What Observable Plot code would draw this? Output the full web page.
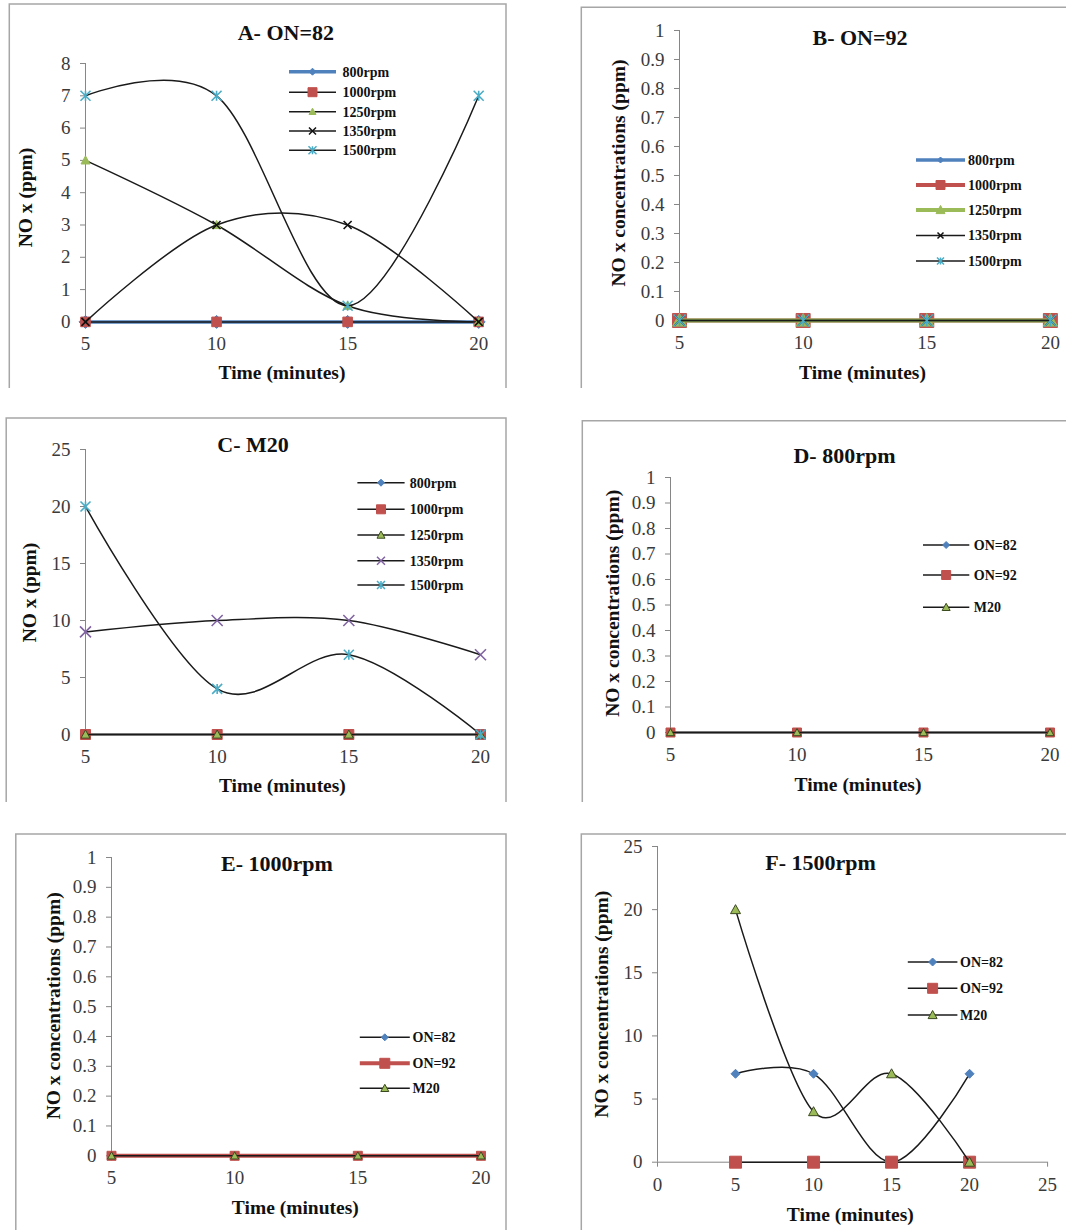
<!DOCTYPE html>
<html>
<head>
<meta charset="utf-8">
<script src="https://cdn.jsdelivr.net/npm/d3@7"></script>
<script src="https://cdn.jsdelivr.net/npm/@observablehq/plot@0.6"></script>
<style>
  html, body { margin: 0; padding: 0; background: #fff; }
  body { width: 1066px; height: 1230px; position: relative; overflow: hidden; font-family: "Liberation Serif", "Times New Roman", serif; }
  #root { position: absolute; left: 0; top: 0; width: 1066px; height: 1230px; }
  #overlay { position: absolute; left: 0; top: 0; pointer-events: none; }
</style>
</head>
<body>
<div id="root"></div>
<script>
// ---------------- DATA ----------------
const timeMin = [5, 10, 15, 20];
const rpmNames = ["800rpm", "1000rpm", "1250rpm", "1350rpm", "1500rpm"];
const fuelNames = ["ON=82", "ON=92", "M20"];

// A- ON=82 : NOx (ppm) per engine speed
const on82_800 = [0, 0, 0, 0];
const on82_1000 = [0, 0, 0, 0];
const on82_1250 = [5, 3, 0.5, 0];
const on82_1350 = [0, 3, 3, 0];
const on82_1500 = [7, 7, 0.5, 7];

// B- ON=92
const on92_800 = [0, 0, 0, 0];
const on92_1000 = [0, 0, 0, 0];
const on92_1250 = [0, 0, 0, 0];
const on92_1350 = [0, 0, 0, 0];
const on92_1500 = [0, 0, 0, 0];

// C- M20
const m20_800 = [0, 0, 0, 0];
const m20_1000 = [0, 0, 0, 0];
const m20_1250 = [0, 0, 0, 0];
const m20_1350 = [9, 10, 10, 7];
const m20_1500 = [20, 4, 7, 0];

// D- 800rpm
const d800_on82 = [0, 0, 0, 0];
const d800_on92 = [0, 0, 0, 0];
const d800_m20 = [0, 0, 0, 0];

// E- 1000rpm
const e1000_on82 = [0, 0, 0, 0];
const e1000_on92 = [0, 0, 0, 0];
const e1000_m20 = [0, 0, 0, 0];

// F- 1500rpm
const f1500_on82 = [7, 7, 0, 7];
const f1500_on92 = [0, 0, 0, 0];
const f1500_m20 = [20, 4, 7, 0];

// tick labels
const timeTicks = [5, 10, 15, 20];
const timeTicksF = [0, 5, 10, 15, 20, 25];
const ticks8 = [0, 1, 2, 3, 4, 5, 6, 7, 8];
const ticksUnit = [0, 0.1, 0.2, 0.3, 0.4, 0.5, 0.6, 0.7, 0.8, 0.9, 1];
const ticks25 = [0, 5, 10, 15, 20, 25];

const titles = ["A- ON=82", "B- ON=92", "C- M20", "D- 800rpm", "E- 1000rpm", "F- 1500rpm"];
const xTitle = "Time (minutes)";
const yTitleShort = "NO x (ppm)";
const yTitleLong = "NO x concentrations (ppm)";

// ---------------- STYLE ----------------
const COL = { blue: "#4F81BD", red: "#C0504D", green: "#9BBB59", purple: "#8064A2", cyan: "#4BACC6", line: "#1a1a1a" };
const AXIS = "#868686";
const FONT = "'Liberation Serif', 'Times New Roman', serif";

const half = size => Math.sqrt(size / Math.PI);
const SYM = {
  diamond: { draw(c, s) { const r = half(s); c.moveTo(0, -r); c.lineTo(r, 0); c.lineTo(0, r); c.lineTo(-r, 0); c.closePath(); } },
  square: { draw(c, s) { const r = half(s); c.moveTo(-r, -r); c.lineTo(r, -r); c.lineTo(r, r); c.lineTo(-r, r); c.closePath(); } },
  triangle: { draw(c, s) { const r = half(s); c.moveTo(0, -r); c.lineTo(r, r * 0.8); c.lineTo(-r, r * 0.8); c.closePath(); } },
  x: { draw(c, s) { const r = half(s); c.moveTo(-r, -r); c.lineTo(r, r); c.moveTo(r, -r); c.lineTo(-r, r); } },
  star: { draw(c, s) { const r = half(s); c.moveTo(-r, -r); c.lineTo(r, r); c.moveTo(r, -r); c.lineTo(-r, r); c.moveTo(0, -r); c.lineTo(0, r); } }
};
const MK = {
  diamond: { sym: "diamond", fill: COL.blue, stroke: COL.blue },
  square: { sym: "square", fill: COL.red, stroke: COL.red },
  triangle: { sym: "triangle", fill: COL.green, stroke: COL.green },
  triangleDark: { sym: "triangle", fill: COL.green, stroke: "#3b4a1e" },
  xBlack: { sym: "x", fill: "none", stroke: "#111" },
  xPurple: { sym: "x", fill: "none", stroke: COL.purple },
  star: { sym: "star", fill: "none", stroke: COL.cyan }
};

// ---------------- PANELS ----------------
const panels = [
  {
    title: titles[0], titlePos: [285.8, 40], xTitlePos: [282, 379], yTitle: yTitleShort, yTitlePos: [25.8, 197.5],
    frame: "M9.3,388 V4 H506 V388",
    plot: { x0: 85.4, x1: 478.6, yTop: 63.3, yBot: 321.7 }, xDomain: [5, 20], xTicks: timeTicks, yDomain: [0, 8], yTicks: ticks8,
    legend: { lx0: 289, lx1: 336, tx: 342.6, rows: [71.7, 92.2, 111.7, 131, 150.3] },
    series: [
      { name: rpmNames[0], values: on82_800, stroke: COL.blue, sw: 3.5, mk: MK.diamond, r: 6.5, lr: 3.5 },
      { name: rpmNames[1], values: on82_1000, stroke: COL.line, sw: 1.5, mk: MK.square, r: 4.8, lr: 4.5 },
      { name: rpmNames[2], values: on82_1250, stroke: COL.line, sw: 1.5, mk: MK.triangle, r: 4.5, lr: 3.5 },
      { name: rpmNames[3], values: on82_1350, stroke: COL.line, sw: 1.5, mk: MK.xBlack, r: 4, lr: 3.5 },
      { name: rpmNames[4], values: on82_1500, stroke: COL.line, sw: 1.5, mk: MK.star, r: 5, lr: 4 }
    ]
  },
  {
    title: titles[1], titlePos: [860, 45], xTitlePos: [862.5, 379], yTitle: yTitleLong, yTitlePos: [618, 173],
    frame: "M581.3,388 V7.3 H1066",
    plot: { x0: 678.7, x1: 1049.6, yTop: 30, yBot: 320 }, xDomain: [5, 20], xTicks: timeTicks, yDomain: [0, 1], yTicks: ticksUnit,
    legend: { lx0: 916, lx1: 965, tx: 968, rows: [160, 185, 210, 235.5, 261] },
    series: [
      { name: rpmNames[0], values: on92_800, stroke: COL.blue, sw: 3.5, mk: MK.diamond, r: 6, lr: 3 },
      { name: rpmNames[1], values: on92_1000, stroke: COL.red, sw: 4, mk: MK.square, r: 7, lr: 4.5 },
      { name: rpmNames[2], values: on92_1250, stroke: COL.green, sw: 4, mk: MK.triangle, r: 7, lr: 4.5 },
      { name: rpmNames[3], values: on92_1350, stroke: COL.line, sw: 1.5, mk: MK.xBlack, r: 5, lr: 3 },
      { name: rpmNames[4], values: on92_1500, stroke: COL.line, sw: 1.5, mk: MK.star, r: 6, lr: 3.5 }
    ]
  },
  {
    title: titles[2], titlePos: [253, 452], xTitlePos: [282.4, 792], yTitle: yTitleShort, yTitlePos: [29, 592.5],
    frame: "M6.2,802 V418 H506 V802",
    plot: { x0: 85.4, x1: 480.4, yTop: 449.3, yBot: 734.3 }, xDomain: [5, 20], xTicks: timeTicks, yDomain: [0, 25], yTicks: ticks25,
    legend: { lx0: 357.4, lx1: 404.6, tx: 409.8, rows: [482.7, 509.3, 535, 560.7, 585] },
    series: [
      { name: rpmNames[0], values: m20_800, stroke: COL.line, sw: 1.5, mk: MK.diamond, r: 4, lr: 3.5 },
      { name: rpmNames[1], values: m20_1000, stroke: COL.line, sw: 1.5, mk: MK.square, r: 5, lr: 4.5 },
      { name: rpmNames[2], values: m20_1250, stroke: COL.line, sw: 1.5, mk: MK.triangleDark, r: 4.5, lr: 4 },
      { name: rpmNames[3], values: m20_1350, stroke: COL.line, sw: 1.5, mk: MK.xPurple, r: 5.5, lr: 4 },
      { name: rpmNames[4], values: m20_1500, stroke: COL.line, sw: 1.5, mk: MK.star, r: 5, lr: 4 }
    ]
  },
  {
    title: titles[3], titlePos: [844.5, 463], xTitlePos: [858, 791], yTitle: yTitleLong, yTitlePos: [612, 603.3],
    frame: "M582.3,802 V420.7 H1066",
    plot: { x0: 670.2, x1: 1049.7, yTop: 476.7, yBot: 731.7 }, xDomain: [5, 20], xTicks: timeTicks, yDomain: [0, 1], yTicks: ticksUnit,
    legend: { lx0: 923, lx1: 969.3, tx: 973.8, rows: [545, 575, 607.3] },
    series: [
      { name: fuelNames[0], values: d800_on82, stroke: COL.line, sw: 1.5, mk: MK.diamond, r: 4, lr: 3.5 },
      { name: fuelNames[1], values: d800_on92, stroke: COL.line, sw: 1.5, mk: MK.square, r: 4.5, lr: 4.5 },
      { name: fuelNames[2], values: d800_m20, stroke: COL.line, sw: 1.5, mk: MK.triangleDark, r: 4, lr: 4 }
    ]
  },
  {
    title: titles[4], titlePos: [277, 871], xTitlePos: [295.3, 1214], yTitle: yTitleLong, yTitlePos: [53.4, 1005.8],
    frame: "M15.8,1230 V834 H506 V1230",
    plot: { x0: 110.9, x1: 480.4, yTop: 856.7, yBot: 1155 }, xDomain: [5, 20], xTicks: timeTicks, yDomain: [0, 1], yTicks: ticksUnit,
    legend: { lx0: 359.8, lx1: 409.8, tx: 412.5, rows: [1037.3, 1063.3, 1088.3] },
    series: [
      { name: fuelNames[0], values: e1000_on82, stroke: COL.line, sw: 1.5, mk: MK.diamond, r: 4, lr: 3.5 },
      { name: fuelNames[1], values: e1000_on92, stroke: COL.red, sw: 4, mk: MK.square, r: 4.5, lr: 5 },
      { name: fuelNames[2], values: e1000_m20, stroke: COL.line, sw: 1.5, mk: MK.triangleDark, r: 4, lr: 4 }
    ]
  },
  {
    title: titles[5], titlePos: [820.6, 870], xTitlePos: [850.3, 1221], yTitle: yTitleLong, yTitlePos: [601.8, 1004.2],
    frame: "M581.3,1230 V834 H1066",
    plot: { x0: 657.2, x1: 1047.3, yTop: 846, yBot: 1161.7 }, xDomain: [0, 25], xTicks: timeTicksF, yDomain: [0, 25], yTicks: ticks25,
    legend: { lx0: 907.8, lx1: 957.4, tx: 960, rows: [962, 988.3, 1015] },
    series: [
      { name: fuelNames[0], values: f1500_on82, stroke: COL.line, sw: 1.5, mk: MK.diamond, r: 4.5, lr: 4 },
      { name: fuelNames[1], values: f1500_on92, stroke: COL.line, sw: 1.5, mk: MK.square, r: 6, lr: 5 },
      { name: fuelNames[2], values: f1500_m20, stroke: COL.line, sw: 1.5, mk: MK.triangleDark, r: 5, lr: 4.5 }
    ]
  }
];

// ---------------- DRAW ----------------
const root = document.getElementById("root");
const PAD = { left: 110, top: 40, right: 30, bottom: 50 };

panels.forEach(p => {
  const pw = p.plot.x1 - p.plot.x0, ph = p.plot.yBot - p.plot.yTop;
  const width = pw + PAD.left + PAD.right, height = ph + PAD.top + PAD.bottom;
  const marks = [
    Plot.ruleY([p.yDomain[0]], { stroke: AXIS, strokeWidth: 1 }),
    Plot.ruleX([p.xDomain[0]], { stroke: AXIS, strokeWidth: 1 }),
    Plot.axisY({ ticks: p.yTicks, tickSize: 5, tickPadding: 10, stroke: AXIS, fill: "#3a3a3a", fontSize: 19, label: null, tickFormat: d => String(d) }),
    Plot.axisX({ ticks: p.xTicks, tickSize: 5, tickPadding: 10, stroke: AXIS, fill: "#3a3a3a", fontSize: 19, label: null, tickFormat: d => String(d) })
  ];
  p.series.forEach(s => {
    const rows = timeMin.map((t, i) => ({ time: t, value: s.values[i], series: s.name }));
    marks.push(Plot.line(rows, { x: "time", y: "value", stroke: s.stroke, strokeWidth: s.sw, curve: "cardinal" }));
    marks.push(Plot.dot(rows, { x: "time", y: "value", symbol: SYM[s.mk.sym], r: s.r, fill: s.mk.fill, stroke: s.mk.stroke, strokeWidth: s.mk.fill === "none" ? 1.6 : 1 }));
  });
  const svg = Plot.plot({
    width, height,
    marginLeft: PAD.left, marginRight: PAD.right, marginTop: PAD.top, marginBottom: PAD.bottom,
    x: { domain: p.xDomain, axis: null },
    y: { domain: p.yDomain, axis: null },
    style: { fontFamily: FONT, fontSize: "19px", background: "transparent", overflow: "visible", maxWidth: "none" },
    marks
  });
  svg.style.position = "absolute";
  svg.style.left = (p.plot.x0 - PAD.left) + "px";
  svg.style.top = (p.plot.yTop - PAD.top) + "px";
  root.appendChild(svg);
});

// overlay: frames, titles, axis titles, legends
const ns = "http://www.w3.org/2000/svg";
const ov = d3.select(root).append("svg").attr("id", "overlay").attr("width", 1066).attr("height", 1230)
  .attr("xmlns", ns).style("font-family", FONT);

panels.forEach(p => {
  ov.append("path").attr("d", p.frame).attr("fill", "none").attr("stroke", "#a6a6a6").attr("stroke-width", 1.5);
  ov.append("text").attr("x", p.titlePos[0]).attr("y", p.titlePos[1]).attr("text-anchor", "middle")
    .attr("font-weight", "bold").attr("font-size", 22).attr("fill", "#111").text(p.title);
  ov.append("text").attr("x", p.xTitlePos[0]).attr("y", p.xTitlePos[1]).attr("text-anchor", "middle")
    .attr("font-weight", "bold").attr("font-size", 19.5).attr("fill", "#111").text(xTitle);
  ov.append("text").attr("transform", `translate(${p.yTitlePos[0]},${p.yTitlePos[1]}) rotate(-90)`)
    .attr("text-anchor", "middle").attr("dominant-baseline", "central")
    .attr("font-weight", "bold").attr("font-size", 19.5).attr("fill", "#111").text(p.yTitle);
  const L = p.legend;
  p.series.forEach((s, i) => {
    const y = L.rows[i];
    const g = ov.append("g");
    g.append("line").attr("x1", L.lx0).attr("x2", L.lx1).attr("y1", y).attr("y2", y)
      .attr("stroke", s.stroke).attr("stroke-width", s.sw);
    const size = Math.PI * s.lr * s.lr;
    g.append("path").attr("d", d3.symbol(SYM[s.mk.sym], size)())
      .attr("transform", `translate(${(L.lx0 + L.lx1) / 2},${y})`)
      .attr("fill", s.mk.fill).attr("stroke", s.mk.stroke).attr("stroke-width", s.mk.fill === "none" ? 1.5 : 1);
    g.append("text").attr("x", L.tx).attr("y", y).attr("dy", "0.35em").attr("font-weight", "bold")
      .attr("font-size", 14).attr("fill", "#111").text(s.name);
  });
});
</script>
</body>
</html>
